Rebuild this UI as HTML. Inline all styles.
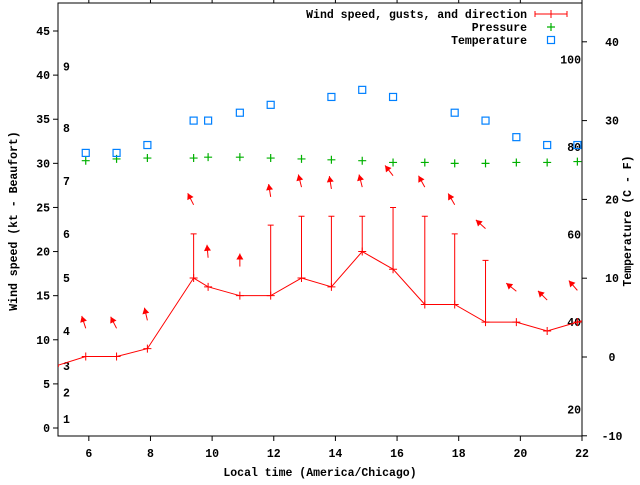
<!DOCTYPE html>
<html><head><meta charset="utf-8"><style>
body{margin:0;background:#fff}
svg text{font-family:"Liberation Mono",monospace;font-weight:bold;font-size:11.5px;fill:#000}
</style></head><body>
<svg id="c" width="640" height="480" xmlns="http://www.w3.org/2000/svg"></svg>
<script>
const times=[4.9,5.9,6.9,7.9,9.4,9.87,10.9,11.9,12.9,13.87,14.87,15.87,16.9,17.87,18.87,19.87,20.87,21.85,22.85];
const windSpeed=[7.0,8.1,8.1,9,17,16,15,15,17,16,20,18,14,14,12,12,11,12,13];
const gustTimes=[9.4,11.9,12.9,13.87,14.87,15.87,16.9,17.87,18.87];
const gustBase=[17,15,17,16,20,18,14,14,12];
const gustValues=[22,23,24,24,24,25,24,22,19];
const pressTimes=[5.9,6.9,7.9,9.4,9.87,10.9,11.9,12.9,13.87,14.87,15.87,16.9,17.87,18.87,19.87,20.87,21.85];
const pressure=[30.3,30.5,30.6,30.6,30.7,30.7,30.6,30.5,30.4,30.3,30.1,30.1,30.0,30.0,30.1,30.1,30.2];
const tempTimes=[5.9,6.9,7.9,9.4,9.87,10.9,11.9,13.87,14.87,15.87,17.87,18.87,19.87,20.87,21.85];
const tempC=[25.9,25.9,26.9,30,30,31,32,33,33.9,33,31,30,27.9,26.9,26.9];
const arrowTimes=[5.9,6.9,7.9,9.4,9.87,10.9,11.9,12.9,13.87,14.87,15.87,16.9,17.87,18.87,19.87,20.87,21.85];
const arrowLevel=[11.3,11.3,12.2,25.3,19.3,18.3,26.2,27.3,27.1,27.3,28.6,27.3,25.3,22.6,15.5,14.5,15.6];
const arrowHeading=[342,333,347,333,355,0,351,346,351,346,322,331,330,312,309,315,319];
const xTicks=[6,8,10,12,14,16,18,20,22];
const yTicks=[0,5,10,15,20,25,30,35,40,45];
const tTicks=[-10,0,10,20,30,40];
const beaufortKt=[1,4,7,11,17,22,28,34,41];
const beaufortLabels=['1','2','3','4','5','6','7','8','9'];
const fahrenheit=[20,40,60,80,100];

const L=58,R=582,T=3,B=436;
const xs=t=>L+(t-5)*(R-L)/17;
const ys=v=>428-v*8.822;
const yt=c=>357-c*7.88;
const NS='http://www.w3.org/2000/svg';
const svg=document.getElementById('c');
function el(tag,attrs,parent){const e=document.createElementNS(NS,tag);for(const k in attrs)e.setAttribute(k,attrs[k]);(parent||svg).appendChild(e);return e;}
function txt(x,y,s,anchor,parent){const e=el('text',{x:x,y:y,'text-anchor':anchor||'start'},parent);e.textContent=s;return e;}

const defs=el('defs',{});
const cp=el('clipPath',{id:'clip'},defs);
el('rect',{x:L,y:T,width:R-L,height:B-T},cp);

// axes frame
const frame=el('rect',{x:L,y:T,width:R-L,height:B-T,fill:'none',stroke:'#000','stroke-width':1});



const gx=el('g',{});


xTicks.forEach(t=>{
  const x=xs(t);
  el('line',{x1:x,y1:B,x2:x,y2:B+5,stroke:'#000'},gx);
  el('line',{x1:x,y1:T,x2:x,y2:T-5,stroke:'#000'},gx);
  const lb=txt(x,457,String(t),'middle',gx);
  
  
});
const gy=el('g',{});


yTicks.forEach(v=>{
  const y=ys(v);
  el('line',{x1:L-5,y1:y,x2:L,y2:y,stroke:'#000'},gy);
  const lb=txt(50,y+4,String(v),'end',gy);
  
  
});
const gt=el('g',{});


tTicks.forEach(v=>{
  const y=yt(v);
  el('line',{x1:R,y1:y,x2:R+5,y2:y,stroke:'#000'},gt);
  const lb=txt(612,y+4,String(v),'middle',gt);
  
  
});
beaufortKt.forEach((k,i)=>{
  const lb=txt(63,ys(k)+4,beaufortLabels[i]);
  
  
});
fahrenheit.forEach(f=>{
  const c=(f-32)*5/9;
  const lb=txt(581,yt(c)+4,String(f),'end');
  
  
});

const xt=txt(320,476,'Local time (America/Chicago)','middle');


const yl=txt(0,0,'Wind speed (kt - Beaufort)','middle');
yl.setAttribute('transform','translate(17,221) rotate(-90)');


const yr=txt(0,0,'Temperature (C - F)','middle');
yr.setAttribute('transform','translate(631,221) rotate(-90)');



const plot=el('g',{'clip-path':'url(#clip)'});



// pressure
pressTimes.forEach((t,i)=>{
  const x=xs(t),y=ys(pressure[i]);
  const p=el('path',{d:`M${x-4},${y}h8M${x},${y-4}v8`,stroke:'#00b000','stroke-width':1.2},plot);
  
  
});
// temperature
tempTimes.forEach((t,i)=>{
  const x=xs(t),y=yt(tempC[i]);
  const r=el('rect',{x:x-3.5,y:y-3.5,width:7,height:7,fill:'none',stroke:'#0080ff','stroke-width':1.2},plot);
  
  
});
// wind line
const wl=el('polyline',{points:times.map((t,i)=>xs(t)+','+ys(windSpeed[i])).join(' '),fill:'none',stroke:'#f00','stroke-width':1},plot);


times.forEach((t,i)=>{
  const x=xs(t),y=ys(windSpeed[i]);
  const p=el('path',{d:`M${x-4},${y}h8M${x},${y-4}v8`,stroke:'#f00','stroke-width':1},plot);
  
  
});
gustTimes.forEach((t,i)=>{
  const x=xs(t),y0=ys(gustBase[i]),y1=ys(gustValues[i]);
  const p=el('path',{d:`M${x},${y0}V${y1}M${x-3},${y1}h6`,stroke:'#f00','stroke-width':1},plot);
  
  
});
arrowTimes.forEach((t,i)=>{
  const x=xs(t),y=ys(arrowLevel[i]);
  const a=arrowHeading[i]*Math.PI/180;
  const dx=Math.sin(a),dy=-Math.cos(a);
  const hx=x+dx*13,hy=y+dy*13;
  const bx=hx-dx*6,by=hy-dy*6;
  const g=el('g',{},plot);
  
  
  el('line',{x1:x,y1:y,x2:hx,y2:hy,stroke:'#f00','stroke-width':1},g);
  el('polygon',{points:`${hx},${hy} ${bx-dy*3.5},${by+dx*3.5} ${bx+dy*3.5},${by-dx*3.5}`,fill:'#f00'},g);
});

// legend
const lg=el('g',{});


const e1=el('g',{},lg);


txt(527,18,'Wind speed, gusts, and direction','end',e1);
el('path',{d:'M535,14h32M535,11v6M567,11v6M551,10v8',stroke:'#f00','stroke-width':1},e1);
const e2=el('g',{},lg);


txt(527,31,'Pressure','end',e2);
el('path',{d:'M547,27h8M551,23v8',stroke:'#00b000','stroke-width':1.2},e2);
const e3=el('g',{},lg);


txt(527,44,'Temperature','end',e3);
el('rect',{x:547.5,y:36.5,width:7,height:7,fill:'none',stroke:'#0080ff','stroke-width':1.2},e3);
</script>
</body></html>
